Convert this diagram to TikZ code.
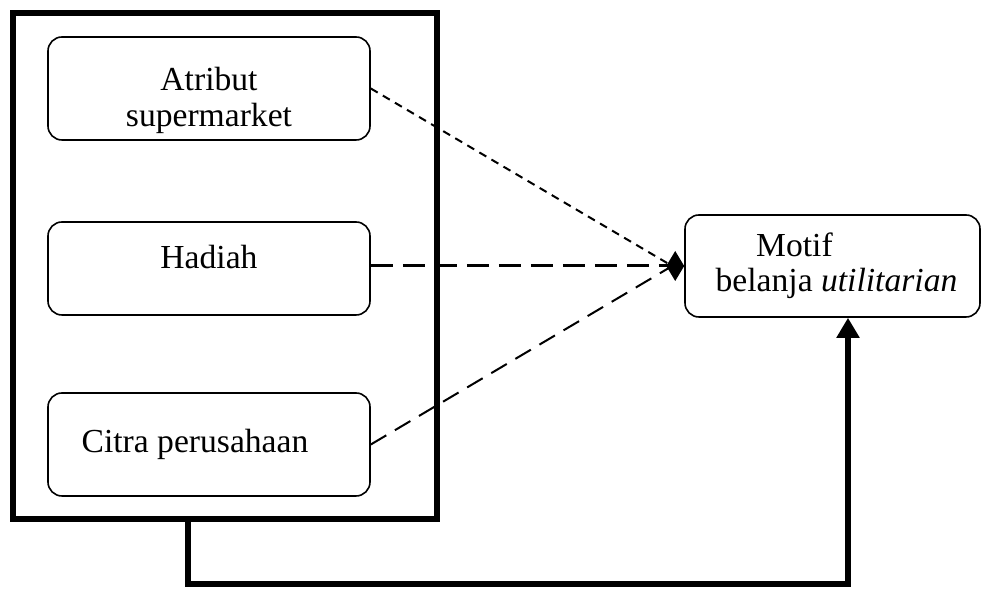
\documentclass[tikz,border=0pt]{standalone}
\usepackage{fontspec}
\setmainfont{Liberation Serif}
\usetikzlibrary{arrows.meta}

\begin{document}
\begin{tikzpicture}[x=0.5pt,y=-0.5pt,
  every node/.style={font=\fontsize{16.8}{17.5}\selectfont},
  factor/.style={draw,line width=0.8pt,rounded corners=7pt,minimum width=161pt,align=center,inner sep=0pt},
  outcome/.style={draw,line width=0.8pt,rounded corners=7pt,minimum width=147.5pt,minimum height=51pt,align=center,inner sep=0pt},
  frame/.style={draw,line width=3pt,minimum width=212pt,minimum height=253pt,inner sep=0pt},
  thickline/.style={line width=3pt},
  tip/.style={-{Diamond[length=9pt,width=15pt]}}]
\useasboundingbox (0,0) rectangle (992,592);
% outer frame and its three factors
\draw (225,266) node[frame] (group) {};
\draw (209,88.5) node[factor,minimum height=51.5pt] (atribut)
  {\raisebox{-6.5pt}[\height][\depth]{\begin{tabular}{@{}c@{}}Atribut\\[0.5pt]supermarket\end{tabular}}};
\draw (209,268.5) node[factor,minimum height=46.5pt] (hadiah) {\raisebox{5.5pt}[\height][\depth]{Hadiah}};
\draw (209,444.5) node[factor,minimum height=51.5pt] (citra) {Citra perusahaan\hspace*{14pt}};
\draw (832.5,266) node[outcome] (motif) {Motif\hspace*{38pt}\\\hspace*{4pt}belanja \textit{utilitarian}};
% dashed paths into the motive
\path[line width=1pt,dash pattern=on 4pt off 3pt] (atribut.east) edge ([xshift=-6pt]motif.west);
\path[line width=1pt,dash pattern=on 9pt off 5pt] (citra.east) edge ([xshift=-6pt]motif.west);
\path[line width=1.5pt,dash pattern=on 11pt off 5pt,tip] (hadiah.east |- motif.west) edge (motif.west);
% solid link from the frame
\coordinate (drop) at (188,519);
\draw[thickline,-{Triangle[length=10pt,width=11pt]}] (drop) -- ++(0,65) -| ([xshift=7.75pt]motif.south);
\end{tikzpicture}
\end{document}
